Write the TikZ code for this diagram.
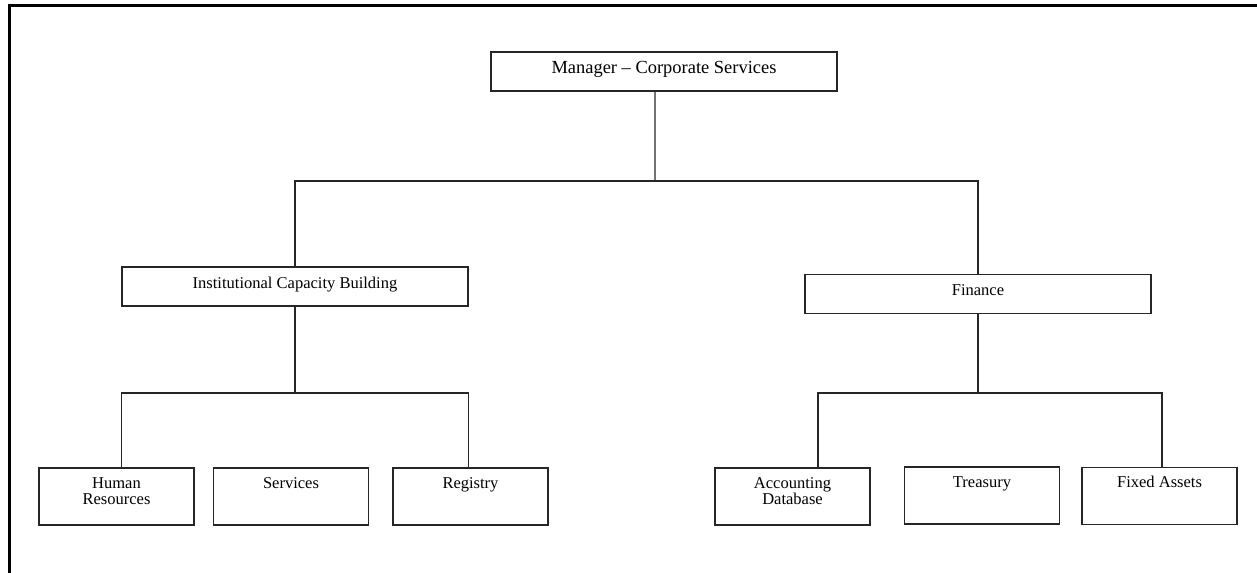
\documentclass[tikz,border=0pt]{standalone}
\usepackage{fontspec}
\setmainfont{Liberation Serif}
\usepackage{tikz}

\newcommand{\toptext}[1]{\parbox[c][0.78cm][t]{6.92cm}{\centering\rule{0pt}{12pt}#1}}
\newcommand{\subtext}[1]{\parbox[c][1.14cm][t]{3.1cm}{\centering\rule{0pt}{11.6pt}#1}}

\tikzset{
    unit/.style={draw=black!85, line width=0.75pt, inner sep=0pt, font=\fontsize{9.4}{9.1}\selectfont},
    headunit/.style={unit, font=\fontsize{10.5}{12}\selectfont},
    link/.style={draw=black!85, line width=0.75pt}
}

\begin{document}
\begin{tikzpicture}[x=0.02cm, y=-0.02cm]
            \useasboundingbox (0,0) rectangle (1257,573);
            \draw[line width=1.2pt] (9.5,573) -- (9.5,5.5) -- (1257,5.5);
            \node[headunit] (mgr) at (664,71.5) {\toptext{Manager -- Corporate Services}};
            \node[unit] (icb) at (295,286.5) {\toptext{Institutional Capacity Building}};
            \node[unit] (fin) at (978,294) {\toptext{Finance}};
            \node[unit] (hrs) at (116.5,496.5) {\subtext{Human\\Resources}};
            \node[unit] (svc) at (291,496.5) {\subtext{Services}};
            \node[unit] (reg) at (470.5,496.5) {\subtext{Registry}};
            \node[unit] (acc) at (792.5,496.5) {\subtext{Accounting\\Database}};
            \node[unit] (trs) at (982,495.5) {\subtext{Treasury}};
            \node[unit] (fxa) at (1159.5,496) {\subtext{Fixed Assets}};
            \coordinate (topbus) at (655,181);
            \draw[link] ([xshift=-0.18cm]mgr.south) -- (topbus);
            \draw[link] (icb.north) -- (icb.north |- topbus) -- (fin.north |- topbus) -- (fin.north);
            \draw[link] (icb.south) -- (icb.south |- 0,393);
            \draw[link] (hrs.north -| icb.south west) -- (icb.south west |- 0,393) -- (icb.south east |- 0,393) -- (reg.north -| icb.south east);
            \draw[link] (fin.south) -- (fin.south |- 0,393);
            \draw[link] (acc.north -| 818,0) -- (818,393) -- (1162,393) -- (fxa.north -| 1162,0);
        \end{tikzpicture}
\end{document}
